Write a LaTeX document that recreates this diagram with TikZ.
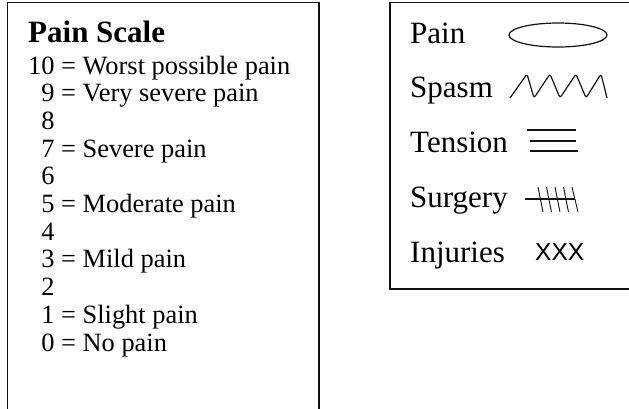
\documentclass[tikz,border=0pt]{standalone}
\usepackage{fontspec}
\setmainfont{Liberation Serif}
\newfontfamily\xfont{Liberation Sans}
\usetikzlibrary{positioning}
\definecolor{Ink}{HTML}{111111}
\tikzset{
  frame/.style={draw=Ink, line width=1.2pt},
  title/.style={anchor=base west, inner sep=0pt, font=\fontsize{31}{34}\selectfont\bfseries},
  scaleline/.style={anchor=base west, inner sep=0pt, font=\fontsize{26.4}{28}\selectfont},
  keylabel/.style={anchor=base west, inner sep=0pt, font=\fontsize{31}{34}\selectfont},
  symbol/.style={draw=Ink, line width=1.2pt},
  thinsymbol/.style={draw=Ink, line width=0.9pt}
}

\begin{document}
\begin{tikzpicture}[x=1pt,y=-1pt]
    \useasboundingbox (0,0) rectangle (629,408);
    \clip (0,0) rectangle (629,408);
    % the two frames
    \draw[frame] (7.5,420) -- (7.5,2.5) -- (319,2.5) -- (319,420);
    \draw[frame] (640,289) -- (390,289) -- (390,2.5) -- (640,2.5);
    % pain scale
    \node[title] (ttl) at (28,42) {Pain Scale};
    \node[scaleline] (s10) at (28,74) {10 = Worst possible pain};
    \node[scaleline] (s9) at (28,101.7) {\phantom{1}9 = Very severe pain};
    \node[scaleline] (s8) at (28,129.4) {\phantom{1}8};
    \node[scaleline] (s7) at (28,157.1) {\phantom{1}7 = Severe pain};
    \node[scaleline] (s6) at (28,184.8) {\phantom{1}6};
    \node[scaleline] (s5) at (28,212.5) {\phantom{1}5 = Moderate pain};
    \node[scaleline] (s4) at (28,240.2) {\phantom{1}4};
    \node[scaleline] (s3) at (28,267.9) {\phantom{1}3 = Mild pain};
    \node[scaleline] (s2) at (28,295.6) {\phantom{1}2};
    \node[scaleline] (s1) at (28,323.3) {\phantom{1}1 = Slight pain};
    \node[scaleline] (s0) at (28,351) {\phantom{1}0 = No pain};
    % legend
    \node[keylabel] (pain) at (410,43) {Pain};
    \node[keylabel] (spasm) at (410,97.5) {Spasm};
    \node[keylabel] (tension) at (410,152) {Tension};
    \node[keylabel] (surgery) at (410,207) {Surgery};
    \node[keylabel] (injuries) at (410,262) {Injuries};
    \draw[symbol] (558,35) ellipse [x radius=49, y radius=12];
    \draw[symbol,rounded corners=2.5pt] (510,98) -- (527,74) -- (534,98) -- (550,74)
      -- (560,98) -- (576,74) -- (586,98) -- (601,74) -- (607,98);
    \draw[symbol] (527,130) -- (576,130);
    \draw[symbol] (530,141) -- (576,141);
    \draw[symbol] (530,151) -- (578,151);
    \draw[symbol] (525,199) -- (575,199);
    \draw[thinsymbol] (538,187) -- (543,212);
    \draw[thinsymbol] (546.5,187) -- (551.5,212);
    \draw[thinsymbol] (555,187) -- (560,212);
    \draw[thinsymbol] (563.5,187) -- (568.5,212);
    \draw[thinsymbol] (572,187) -- (578,212);
    \node[anchor=base west, inner sep=0pt, font=\xfont\fontsize{24.5}{26}\selectfont] (xxx) at (535,260) {XXX};
  \end{tikzpicture}
\end{document}
